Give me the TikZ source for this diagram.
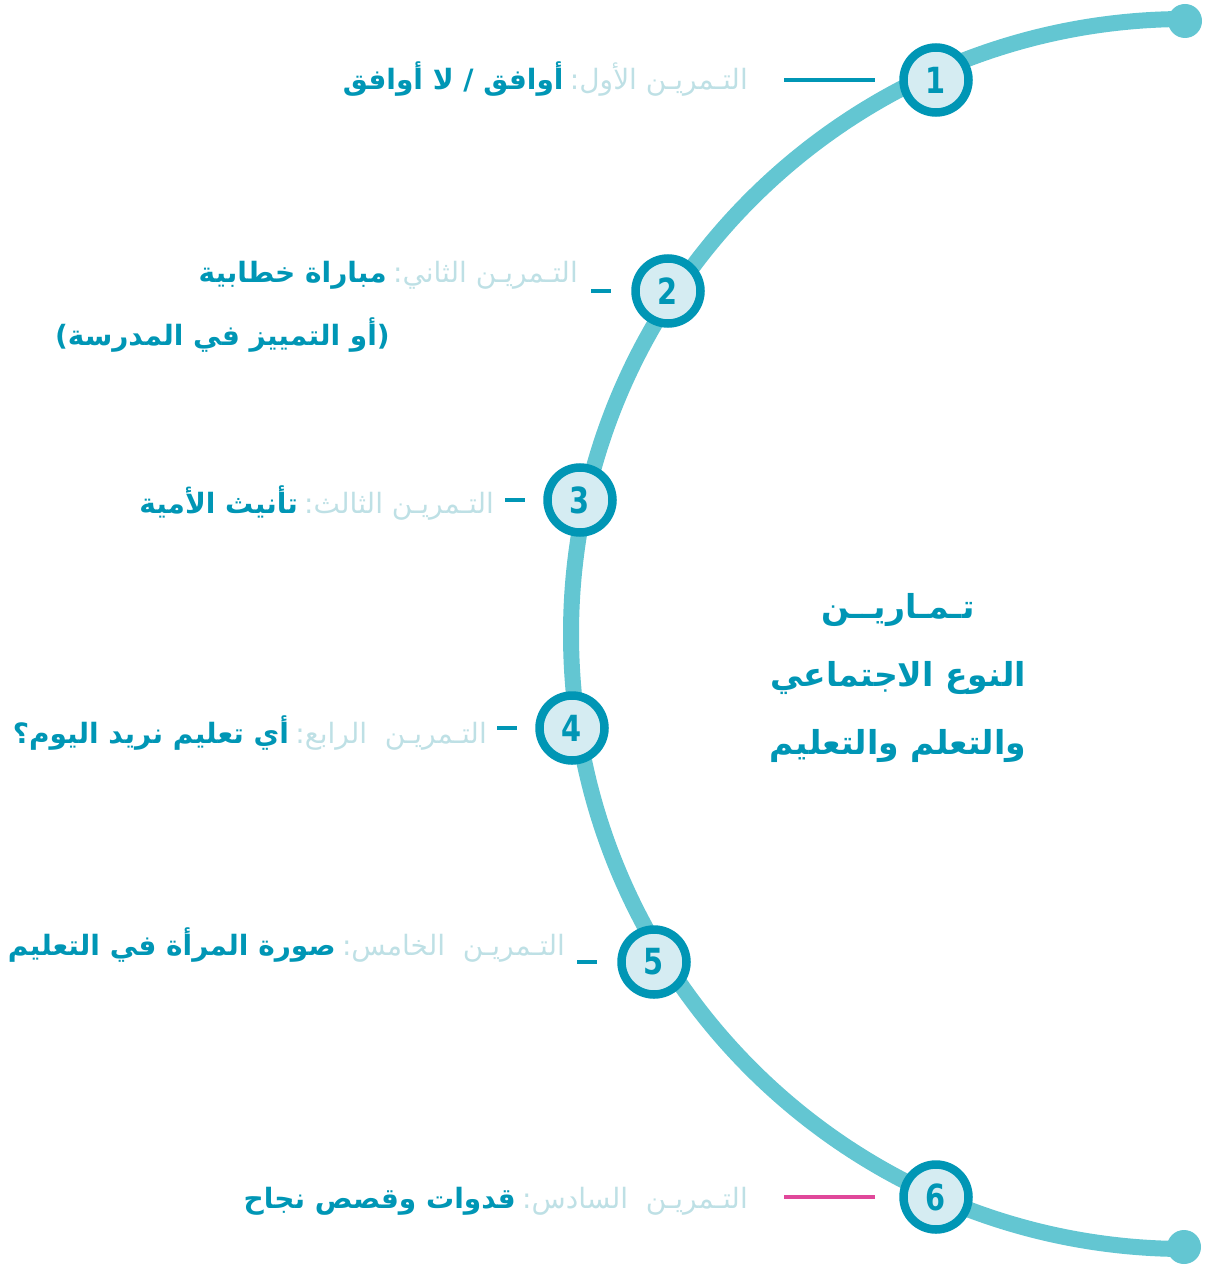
\documentclass[tikz,border=0pt]{standalone}
\usepackage{fontspec}
\usepackage{tikz}
\usepackage{xcolor}
\TeXXeTstate=1
\newfontfamily\arabicfont[Script=Arabic]{DejaVu Sans}
\newfontfamily\numfont[FakeStretch=0.8]{DejaVu Sans}
\definecolor{tmarc}{RGB}{99,198,210}
\definecolor{tmteal}{RGB}{0,150,181}
\definecolor{tmfill}{RGB}{213,236,242}
\definecolor{tmgrey}{RGB}{190,224,229}
\definecolor{tmpink}{RGB}{224,72,154}
\tikzstyle{numcircle} = [circle, draw=tmteal, line width=8.5pt, fill=tmfill, minimum size=65pt, inner sep=0pt, text=tmteal, font=\numfont\bfseries\fontsize{36}{36}\selectfont]
\tikzstyle{exname} = [anchor=base east, inner sep=0pt, text=tmgrey, font=\arabicfont\fontsize{28}{30}\selectfont]
\tikzstyle{exbold} = [anchor=base east, inner sep=0pt, text=tmteal, font=\arabicfont\bfseries\fontsize{28}{30}\selectfont]
\tikzstyle{tick} = [line width=4pt, color=tmteal]

\begin{document}
\begin{tikzpicture}[x=1pt, y=-1pt]
\useasboundingbox (0,0) rectangle (1208,1265);
% the big arc with its end dots
\draw[line width=16pt, tmarc] (1186,19) arc[start angle=270, end angle=90, radius=615];
\fill[tmarc] (1185,21) circle (17pt);
\fill[tmarc] (1184,1247) circle (17pt);

% numbered circles
\node[numcircle] (c1) at (936,80) {1};
\node[numcircle] (c2) at (668,291) {2};
\node[numcircle] (c3) at (580,500) {3};
\node[numcircle] (c4) at (572,728) {4};
\node[numcircle] (c5) at (654,962) {5};
\node[numcircle] (c6) at (936,1197) {6};

% ticks
\draw[tick] ([xshift=-115pt]c1.west) -- ([xshift=-24pt]c1.west);
\draw[tick] ([xshift=-40pt]c2.west) -- ([xshift=-20pt]c2.west);
\draw[tick] ([xshift=-38pt]c3.west) -- ([xshift=-18pt]c3.west);
\draw[tick] ([xshift=-38pt]c4.west) -- ([xshift=-18pt]c4.west);
\draw[tick] ([xshift=-40pt]c5.west) -- ([xshift=-20pt]c5.west);
\draw[tick, tmpink] ([xshift=-115pt]c6.west) -- ([xshift=-24pt]c6.west);

% exercise labels
\node[exname] (p1) at (748,90) {\beginR التـمريـن الأول:\endR};
\node[exbold] (t1) at ([xshift=-6pt]p1.base west) {\beginR أوافق / لا أوافق\endR};
\node[exname] (p2) at (578,282) {\beginR التـمريـن الثاني:\endR};
\node[exbold] (t2) at ([xshift=-6pt]p2.base west) {\beginR مباراة خطابية\endR};
\node[exbold] (t2b) at (390,345) {\beginR(أو التمييز في المدرسة)\endR};
\node[exname] (p3) at (494,513) {\beginR التـمريـن الثالث:\endR};
\node[exbold] (t3) at ([xshift=-6pt]p3.base west) {\beginR تأنيث الأمية\endR};
\node[exname] (p4) at (487,743) {\beginR التـمريـن\ \ الرابع:\endR};
\node[exbold] (t4) at ([xshift=-6pt]p4.base west) {\beginR أي تعليم نريد اليوم؟\endR};
\node[exname] (p5) at (565,955) {\beginR التـمريـن\ \ الخامس:\endR};
\node[exbold] (t5) at ([xshift=-6pt]p5.base west) {\beginR صورة المرأة في التعليم\endR};
\node[exname] (p6) at (748,1208) {\beginR التـمريـن\ \ السادس:\endR};
\node[exbold] (t6) at ([xshift=-6pt]p6.base west) {\beginR قدوات وقصص نجاح\endR};

% title
\node[align=center, text=tmteal, font=\arabicfont\bfseries\fontsize{33}{68}\selectfont] (title) at (898,678)
  {\beginR تـمـاريــن\endR\\\beginR النوع الاجتماعي\endR\\\beginR والتعلم والتعليم\endR};
\end{tikzpicture}
\end{document}
